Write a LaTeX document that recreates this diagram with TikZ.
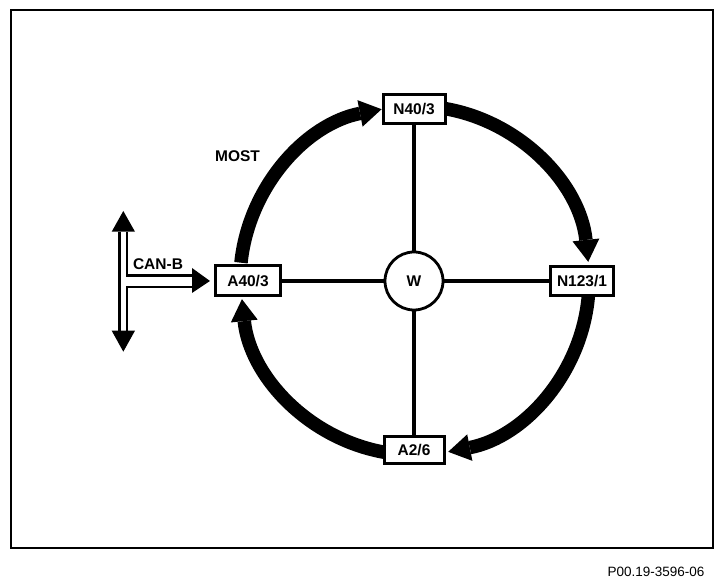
\documentclass[tikz,border=0pt]{standalone}
\usepackage{fontspec}
\setmainfont{Liberation Sans}
\usetikzlibrary{arrows.meta}
\begin{document}
\begin{tikzpicture}[x=1pt,y=1pt,
  box/.style={draw, line width=3pt, fill=white, inner sep=0pt,
    font=\fontsize{15.5}{18}\selectfont\bfseries},
  hub/.style={draw, circle, line width=2.8pt, fill=white, inner sep=0pt,
    minimum size=58pt, font=\fontsize{15.5}{18}\selectfont\bfseries},
  spoke/.style={line width=3.2pt},
  ring/.style={line width=13.5pt,
    -{Triangle[length=22pt,width=27pt,line width=0pt]}},
  lbl/.style={inner sep=0pt, font=\fontsize{15.5}{18}\selectfont\bfseries},
  canb/.style={line width=2.8pt},
  canhead/.style={fill=black, draw=none}]
\useasboundingbox (0,0) rectangle (726,584);
% frame
\draw[line width=2pt] (11,36) rectangle (713,574);

% ring centre
\coordinate (C) at (415,303);

% nodes
\node[hub] (W) at (414,303) {W};
\node[box, minimum width=62pt, minimum height=29pt] (N40) at (414,475) {N40/3};
\node[box, minimum width=63pt, minimum height=29pt] (N123) at (582,303) {N123/1};
\node[box, minimum width=60pt, minimum height=27pt] (A26) at (414,134) {A2/6};
\node[box, minimum width=65pt, minimum height=30pt] (A40) at (248,303) {A40/3};

% spokes
\draw[spoke] (N40.south) -- (W.north);
\draw[spoke] (W.west) -- (A40.east);
\draw[spoke] (W.east) -- (N123.west);
\draw[spoke] (W.south) -- (A26.north);

% MOST ring arrows
\draw[ring] (C) ++(174:175) arc[start angle=174, end angle=101, radius=175];
\draw[ring] (C) ++(80:175) arc[start angle=80, end angle=6, radius=174];
\draw[ring] (C) ++(-5:174) arc[start angle=-5, end angle=-79, radius=174];
\draw[ring] (C) ++(-100:174) arc[start angle=-100, end angle=-174, radius=174];

% labels
\node[lbl] (most) at (237.5,427.5) {MOST};
\node[lbl] (canlbl) at (158,320) {CAN-B};
\node[inner sep=0pt, font=\fontsize{13.5}{16}\selectfont] (ref) at (656,12) {P00.19-3596-06};

% CAN-B bus (hollow T arrow)
\coordinate (canT) at (123.3,303);
\coordinate (canTip) at ([xshift=-4pt]A40.west);
\draw[canb] (119.5,352.3) -- (119.5,253.3);
\draw[canb] (127,352.3) -- (127,308.7) -- (192,308.7);
\draw[canb] (192,297) -- (127,297) -- (127,253.3);
\fill[canhead] (123.3,373) -- (135,352.3) -- (111.7,352.3) -- cycle;
\fill[canhead] (123.3,232.3) -- (135,253.3) -- (111.7,253.3) -- cycle;
\fill[canhead] (canTip) -- (192,316) -- (192,291) -- cycle;
\end{tikzpicture}
\end{document}
